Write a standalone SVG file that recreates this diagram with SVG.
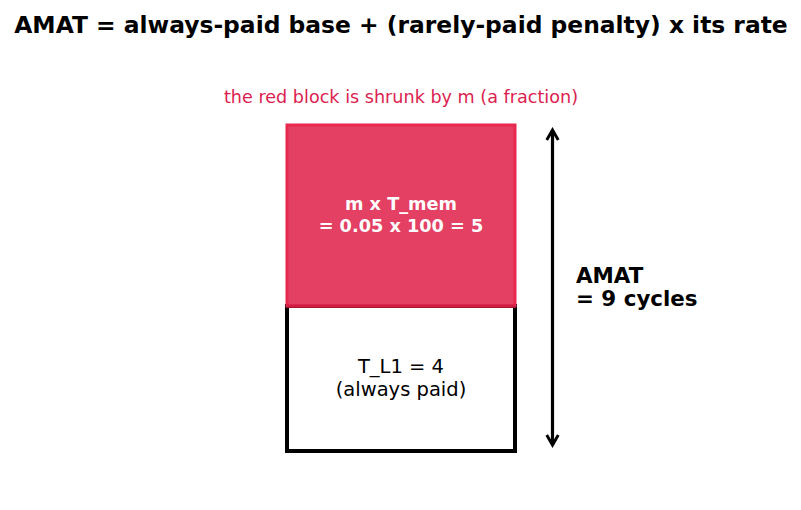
<svg xmlns="http://www.w3.org/2000/svg" width="801" height="510" viewBox="0 0 801 510">
<defs>
<style>
text{font-family:"DejaVu Sans",sans-serif;text-anchor:middle}
.title{font-size:23.4px;font-weight:bold;fill:#000}
.sub{font-size:17.6px;fill:#dc1e50}
.red{font-size:17.7px;font-weight:bold;fill:#fff}
.base{font-size:19.5px;fill:#000}
.amat{font-size:21.4px;font-weight:bold;fill:#000;text-anchor:start}
</style>
<marker id="ah" viewBox="0 0 10 10" refX="8" refY="5" markerWidth="4.5" markerHeight="4.5" orient="auto-start-reverse" markerUnits="strokeWidth">
<path d="M1,1 L8,5 L1,9" fill="none" stroke="#000" stroke-width="2"/>
</marker>
</defs>
<rect width="801" height="510" fill="#fff"/>
<text class="title" x="401" y="33">AMAT = always-paid base + (rarely-paid penalty) x its rate</text>
<text class="sub" x="401" y="103">the red block is shrunk by m (a fraction)</text>
<g id="base">
<rect x="287" y="306" width="228" height="145" fill="#fff" stroke="#000" stroke-width="4"/>
<text class="base" x="401" y="373">T_L1 = 4</text>
<text class="base" x="401" y="396">(always paid)</text>
</g>
<g id="penalty">
<rect x="287" y="125" width="228" height="181" fill="#e34064" stroke="#e8284f" stroke-width="3"/>
<line x1="287" y1="306" x2="515" y2="306" stroke="#d01c44" stroke-width="3"/>
<text class="red" x="401" y="210">m x T_mem</text>
<text class="red" x="401" y="232">= 0.05 x 100 = 5</text>
</g>
<g id="connectors">
<line x1="552.5" y1="130" x2="552.5" y2="445" stroke="#000" stroke-width="3.2" marker-start="url(#ah)" marker-end="url(#ah)"/>
</g>
<g id="amat">
<text class="amat" x="576" y="283">AMAT</text>
<text class="amat" x="576" y="306">= 9 cycles</text>
</g>
</svg>
